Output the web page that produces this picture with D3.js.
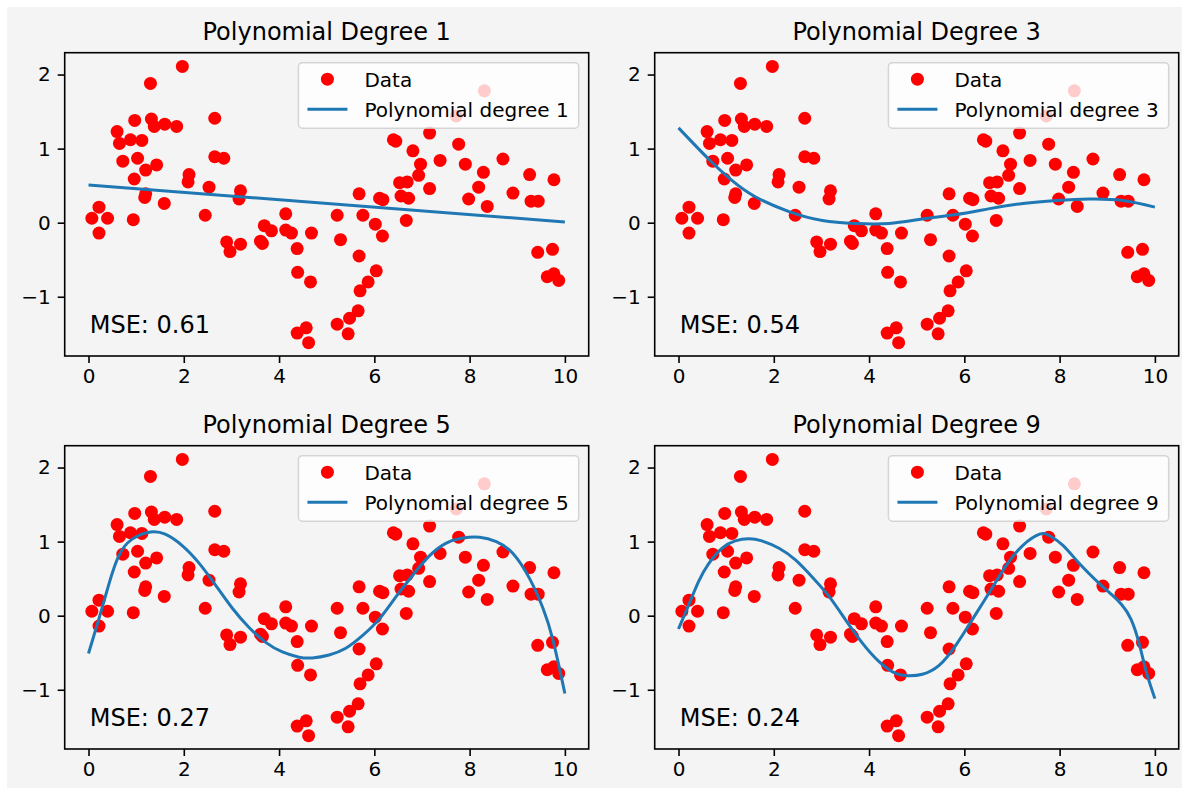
<!DOCTYPE html>
<html>
<head>
<meta charset="utf-8">
<script src="https://cdn.jsdelivr.net/npm/d3@7"></script>
<style>
  body { margin: 0; background: #fff; }
  svg { display: block; font-family: "DejaVu Sans", sans-serif; }
</style>
</head>
<body>
<div id="viz"></div>
<script>
const width = 1189, height = 795;

// scatter data (same in all four panels)
const xData = [0.07, 0.22, 0.40, 0.22, 0.94, 0.60, 0.65, 0.88, 1.12, 0.97,
  1.30, 1.32, 1.38, 1.60, 1.85, 1.97, 0.72, 1.03, 1.43, 1.20,
  0.96, 1.20, 1.18, 1.59, 2.11, 2.09, 2.65, 2.65, 2.84, 2.53,
  2.45, 3.19, 3.16, 2.90, 2.97, 3.19, 3.69, 3.84, 3.61, 3.65,
  4.14, 4.14, 4.26, 4.68, 4.38, 4.39, 4.66, 4.38, 4.57, 4.62,
  7.16, 6.40, 6.45, 6.81, 7.38, 6.97, 6.93, 6.53, 6.69, 6.56,
  6.72, 7.16, 6.67, 5.68, 6.11, 6.18, 5.22, 5.76, 6.02, 6.17,
  5.29, 5.68, 6.04, 5.87, 5.70, 5.66, 5.48, 5.22, 5.45, 7.72,
  8.31, 7.77, 7.91, 8.29, 8.70, 8.19, 7.98, 8.37, 8.91, 9.26,
  9.29, 9.44, 9.77, 9.43, 9.74, 9.63, 9.77, 9.87];
const yData = [0.06, 0.21, 0.06, -0.14, 0.04, 1.23, 1.07, 1.12, 1.11, 1.38,
  1.88, 1.40, 1.30, 1.33, 1.30, 2.11, 0.83, 0.87, 0.78, 0.71,
  0.59, 0.39, 0.34, 0.26, 0.65, 0.55, 1.41, 0.89, 0.87, 0.48,
  0.10, 0.43, 0.32, -0.26, -0.39, -0.29, -0.04, -0.11, -0.25, -0.28,
  0.12, -0.10, -0.14, -0.14, -0.35, -0.67, -0.80, -1.49, -1.42, -1.62,
  1.21, 1.12, 1.10, 0.97, 0.84, 0.79, 0.64, 0.54, 0.55, 0.36,
  0.33, 0.46, 0.03, 0.39, 0.33, 0.31, 0.10, 0.10, -0.02, -0.18,
  -0.23, -0.45, -0.65, -0.80, -0.92, -1.19, -1.29, -1.37, -1.50, 1.44,
  1.78, 1.06, 0.79, 0.68, 0.86, 0.48, 0.32, 0.22, 0.40, 0.65,
  0.29, 0.29, 0.58, -0.40, -0.36, -0.73, -0.69, -0.78];

// fitted curves
const fit1X = [0, 10];
const fit1Y = [0.51, 0.01];
const fit3X = [0, 0.63, 1.12, 1.61, 2.32, 3.02, 3.72, 4.42, 5.12, 5.82, 6.53, 7.23, 7.93, 8.63, 9.33, 10];
const fit3Y = [1.28, 0.86, 0.57, 0.35, 0.15, 0.03, -0.01, -0.01, 0.05, 0.11, 0.19, 0.26, 0.30, 0.32, 0.30, 0.21];
const fit5X = [0, 0.21, 0.42, 0.63, 0.91, 1.30, 1.61, 1.96, 2.32, 2.67, 3.02, 3.37, 3.72, 4.07, 4.42, 4.70,
  5.05, 5.40, 5.75, 6.11, 6.46, 6.81, 7.16, 7.51, 7.86, 8.21, 8.56, 8.91, 9.26, 9.54, 9.75, 10];
const fit5Y = [-0.51, -0.06, 0.41, 0.80, 1.03, 1.13, 1.10, 0.95, 0.71, 0.41, 0.10, -0.16, -0.36, -0.49, -0.56, -0.57,
  -0.53, -0.44, -0.27, -0.04, 0.26, 0.55, 0.81, 0.98, 1.05, 1.06, 1.00, 0.84, 0.50, 0.10, -0.33, -1.05];
const fit9X = [0, 0.21, 0.42, 0.63, 0.91, 1.19, 1.47, 1.75, 2.11, 2.46, 2.81, 3.16, 3.51, 3.86, 4.21, 4.56, 4.84,
  5.12, 5.47, 5.82, 6.18, 6.53, 6.88, 7.23, 7.58, 7.79, 8.07, 8.42, 8.84, 9.10, 9.30, 9.50, 9.68, 9.82, 10];
const fit9Y = [-0.18, 0.14, 0.46, 0.70, 0.91, 1.01, 1.04, 1.01, 0.91, 0.75, 0.52, 0.26, -0.06, -0.37, -0.62, -0.78, -0.81,
  -0.79, -0.67, -0.40, -0.04, 0.32, 0.68, 0.95, 1.10, 1.08, 0.95, 0.70, 0.43, 0.28, 0.15, -0.05, -0.40, -0.76, -1.12];

const degrees = [1, 3, 5, 9];
const mseLabels = ["0.61", "0.54", "0.27", "0.24"];
const fitsX = [fit1X, fit3X, fit5X, fit9X];
const fitsY = [fit1Y, fit3Y, fit5Y, fit9Y];
const xTicks = [0, 2, 4, 6, 8, 10];
const yTicks = [-1, 0, 1, 2];

const svg = d3.select("#viz").append("svg")
  .attr("width", width)
  .attr("height", height);

// figure background
svg.append("rect")
  .attr("x", 7).attr("y", 7)
  .attr("width", 1175).attr("height", 781)
  .attr("fill", "#f4f4f4");

const lefts = [64.7, 654.7], tops = [52.7, 445.7];
const pw = 524, ph = 303.3;
const fmt = d => d < 0 ? "\u2212" + Math.abs(d) : String(d);

degrees.forEach((deg, i) => {
  const left = lefts[i % 2], top = tops[Math.floor(i / 2)];
  const g = svg.append("g");

  const x = d3.scaleLinear().domain([-0.5, 10.5]).range([left, left + pw]);
  const y = d3.scaleLinear().domain([-1.80, 2.295]).range([top + ph, top]);

  g.append("rect")
    .attr("x", left).attr("y", top)
    .attr("width", pw).attr("height", ph)
    .attr("fill", "#f4f4f4");

  // axes
  const xa = g.append("g")
    .attr("transform", `translate(0,${top + ph})`)
    .call(d3.axisBottom(x).tickValues(xTicks).tickFormat(fmt).tickSize(7).tickPadding(6));
  const ya = g.append("g")
    .attr("transform", `translate(${left},0)`)
    .call(d3.axisLeft(y).tickValues(yTicks).tickFormat(fmt).tickSize(7).tickPadding(7));
  [xa, ya].forEach(a => {
    a.select(".domain").remove();
    a.selectAll("line").attr("stroke", "#000").attr("stroke-width", 1.6);
    a.selectAll("text").attr("font-size", 20).attr("fill", "#000")
      .attr("font-family", "DejaVu Sans");
  });

  // points
  g.selectAll("circle.pt")
    .data(xData.map((v, k) => [v, yData[k]]))
    .enter().append("circle")
    .attr("class", "pt")
    .attr("cx", d => x(d[0]))
    .attr("cy", d => y(d[1]))
    .attr("r", 6.5)
    .attr("fill", "#ff0000");

  // fitted curve
  const line = d3.line()
    .x(d => x(d[0]))
    .y(d => y(d[1]))
    .curve(deg === 1 ? d3.curveLinear : d3.curveNatural);
  g.append("path")
    .datum(fitsX[i].map((v, k) => [v, fitsY[i][k]]))
    .attr("d", line)
    .attr("fill", "none")
    .attr("stroke", "#1f77b4")
    .attr("stroke-width", 3);

  // spines
  g.append("rect")
    .attr("x", left).attr("y", top)
    .attr("width", pw).attr("height", ph)
    .attr("fill", "none")
    .attr("stroke", "#000")
    .attr("stroke-width", 1.6);

  // title
  g.append("text")
    .attr("x", left + pw / 2)
    .attr("y", top - 13)
    .attr("text-anchor", "middle")
    .attr("font-size", 24)
    .text(`Polynomial Degree ${deg}`);

  // MSE label
  g.append("text")
    .attr("x", left + 25)
    .attr("y", top + ph - 23)
    .attr("font-size", 24)
    .text(`MSE: ${mseLabels[i]}`);

  // legend
  const leg = g.append("g");
  const boxRight = left + pw - 10;
  const t1 = leg.append("text").attr("font-size", 20).text("Data");
  const t2 = leg.append("text").attr("font-size", 20).text(`Polynomial degree ${deg}`);
  const tw = Math.max(t1.node().getComputedTextLength(), t2.node().getComputedTextLength());
  const textStart = boxRight - 10 - tw;
  const boxLeft = textStart - 66;
  const r1 = top + 26.5, r2 = top + 56.5;
  t1.attr("x", textStart).attr("y", r1 + 7.3);
  t2.attr("x", textStart).attr("y", r2 + 7.3);
  leg.insert("rect", "text")
    .attr("x", boxLeft).attr("y", top + 10)
    .attr("width", boxRight - boxLeft).attr("height", 65.5)
    .attr("rx", 4)
    .attr("fill", "#fff").attr("fill-opacity", 0.8)
    .attr("stroke", "#cccccc").attr("stroke-opacity", 0.8)
    .attr("stroke-width", 1.5);
  leg.append("circle")
    .attr("cx", boxLeft + 29).attr("cy", r1)
    .attr("r", 6.5).attr("fill", "#ff0000");
  leg.append("line")
    .attr("x1", boxLeft + 9).attr("x2", boxLeft + 49)
    .attr("y1", r2).attr("y2", r2)
    .attr("stroke", "#1f77b4").attr("stroke-width", 3);
});
</script>
</body>
</html>
